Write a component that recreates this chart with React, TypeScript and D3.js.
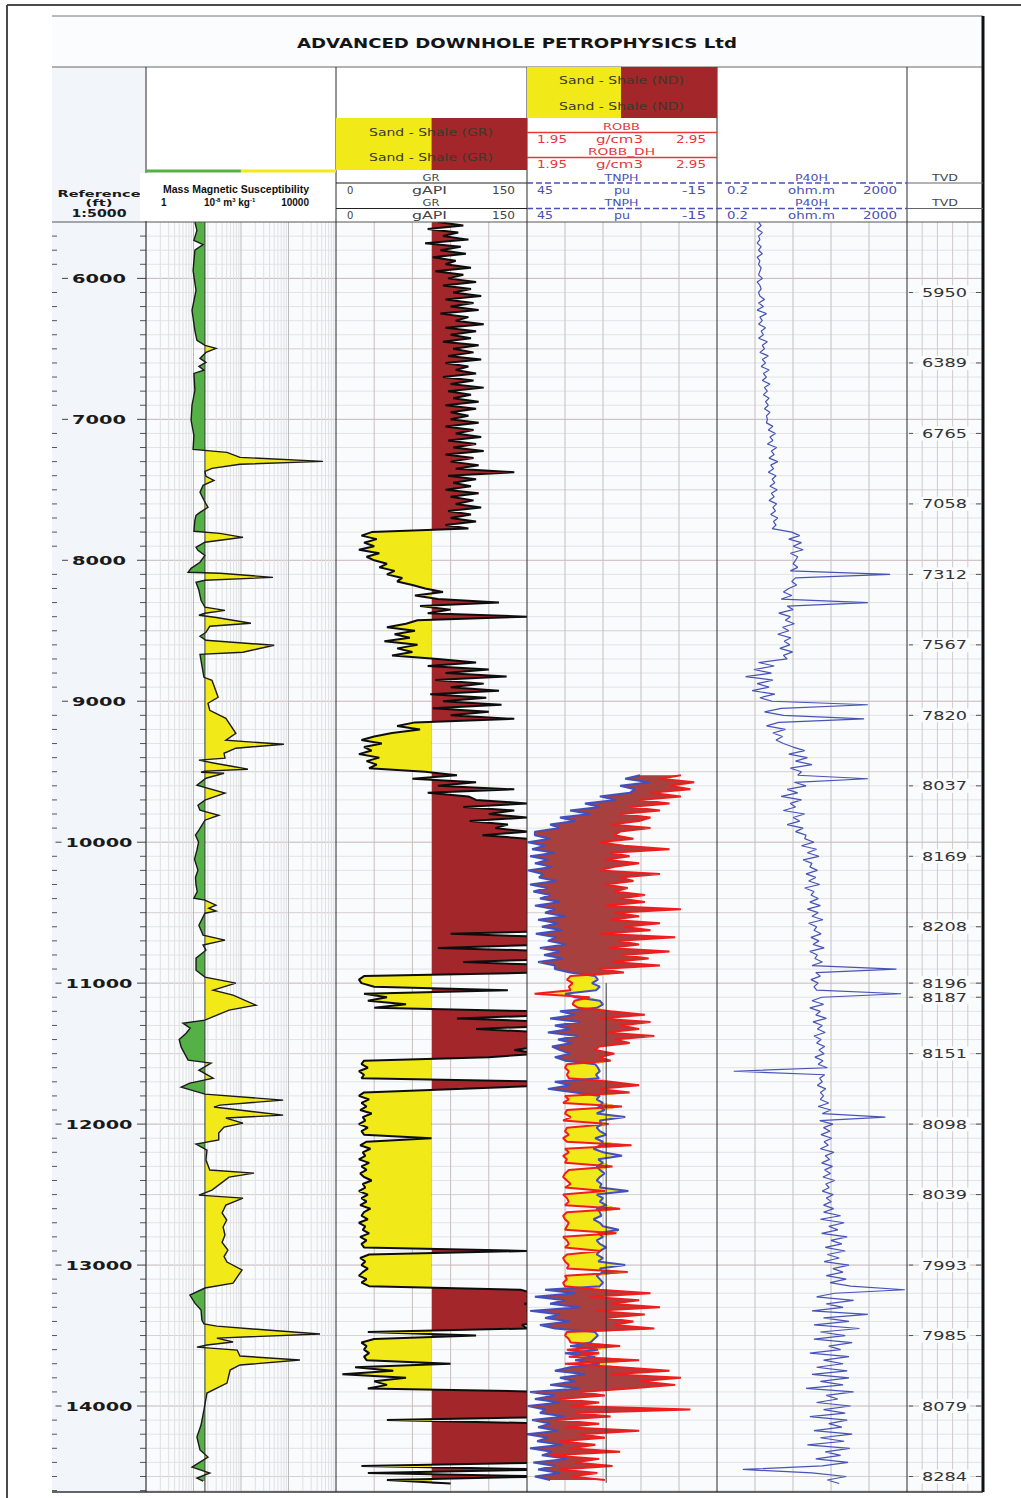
import React from 'react';
import * as d3 from 'd3';

const DEPTH_LABELS = [6000, 7000, 8000, 9000, 10000, 11000, 12000, 13000, 14000];

const TVD_MD = [6100, 6600, 7100, 7600, 8100, 8600, 9100, 9600, 10100, 10600, 11000, 11100, 11500, 12000, 12500, 13000, 13500, 14000, 14500];
const TVD_LABELS = ['5950', '6389', '6765', '7058', '7312', '7567', '7820', '8037', '8169', '8208', '8196', '8187', '8151', '8098', '8039', '7993', '7985', '8079', '8284'];

// mass magnetic susceptibility, [depth ft, 10^-8 m3/kg]
const SUSC_CUTOFF = 17.4;
const SUSC_POINTS = [
  [5600, 10.7], [5660, 11.8], [5730, 10.2], [5760, 15.9], [5800, 10.7], [5945, 9.8], [6085, 11.3], [6227, 9.3],
  [6370, 10.7], [6440, 11.8], [6475, 17.4], [6496, 29.8], [6525, 18.3], [6567, 13.7], [6596, 18.3], [6624, 13],
  [6652, 16.6], [6674, 10.2], [6794, 10.7], [6900, 9.3], [7007, 8.9], [7113, 10.2], [7213, 9.8], [7234, 50.7],
  [7270, 95], [7298, 5300], [7319, 95], [7348, 24.5], [7369, 17.4], [7404, 18.3], [7433, 27], [7468, 15.9],
  [7518, 13.7], [7574, 16.6], [7624, 20.2], [7660, 13.7], [7681, 11.3], [7716, 10.7], [7794, 10.2], [7809, 36],
  [7837, 110], [7872, 17.4], [7908, 11.3], [7929, 12.4], [7965, 17.4], [8014, 13.7], [8057, 8.9], [8085, 7.7],
  [8092, 36], [8121, 470], [8142, 17.4], [8156, 11.3], [8213, 13], [8284, 14.4], [8333, 17.4], [8355, 46],
  [8376, 17.4], [8390, 13], [8404, 28], [8447, 162], [8468, 22], [8511, 18.3], [8539, 13.7], [8567, 18.3],
  [8603, 500], [8652, 110], [8667, 13.7], [8745, 15], [8830, 16.6], [8851, 24.5], [8972, 33], [9014, 20.2],
  [9064, 22], [9121, 48], [9227, 78], [9277, 48], [9305, 800], [9333, 78], [9369, 44], [9404, 46],
  [9418, 13], [9440, 28], [9461, 64], [9482, 140], [9496, 17.4], [9504, 14.4], [9511, 44], [9546, 18.3],
  [9596, 11.8], [9652, 46], [9702, 17.4], [9738, 12.4], [9773, 13.7], [9809, 34], [9844, 17.4], [9915, 13],
  [9950, 11], [10000, 12.8], [10057, 11.8], [10120, 10.5], [10199, 12.4], [10250, 11], [10305, 11.3], [10350, 12],
  [10397, 10.2], [10411, 17.4], [10447, 29.8], [10468, 21], [10489, 29.8], [10504, 17.4], [10589, 13], [10660, 15.9],
  [10695, 46], [10730, 15.9], [10766, 18.3], [10823, 11.3], [10908, 11.3], [10957, 17.4], [11000, 78], [11050, 26],
  [11085, 68], [11156, 206], [11191, 56], [11262, 17.4], [11284, 6], [11320, 8.5], [11355, 7], [11400, 5],
  [11454, 5.5], [11546, 7.7], [11567, 23.4], [11617, 13], [11674, 26], [11709, 8.4], [11738, 5.5], [11787, 17.4],
  [11830, 770], [11865, 36], [11879, 27], [11936, 770], [11957, 48], [11993, 110], [12021, 44], [12064, 34],
  [12113, 34], [12142, 11.3], [12184, 19.2], [12255, 18.3], [12326, 22], [12348, 188], [12376, 56], [12468, 24.5],
  [12504, 13], [12525, 110], [12574, 48], [12630, 40], [12681, 50], [12730, 42], [12787, 46], [12840, 40],
  [12894, 53], [12940, 44], [12979, 50.7], [13035, 105], [13128, 68], [13163, 17.4], [13213, 8.4], [13270, 10.7],
  [13319, 14.4], [13390, 15], [13418, 16.6], [13433, 31], [13461, 350], [13489, 4600], [13518, 31], [13546, 68],
  [13567, 19.2], [13582, 11.8], [13603, 83], [13645, 95], [13674, 1740], [13709, 95], [13745, 59], [13837, 50.7],
  [13908, 19.2], [14028, 16.6], [14135, 14.4], [14220, 11.8], [14312, 13.7], [14362, 20.2], [14433, 9.3], [14475, 22],
  [14511, 11.8], [14532, 15.9],
];

// logs sampled every 25 ft: [top depth, values]
const SAMPLE_STEP = 25;

const GR_CUTOFF = 75;
const GR_RUNS = [
  [5600, [80, 100, 72, 96, 84, 104, 70, 98, 82, 102, 76, 94, 86, 106, 78, 100]],
  [6000, [88, 110, 84, 106, 92, 114, 86, 108, 90, 112, 82, 104, 94, 116, 86, 110, 90, 106, 84, 112, 92, 108, 88, 114, 86, 104, 94, 110, 84, 108, 90, 116, 88, 106, 92, 112, 86, 110, 90, 104]],
  [7000, [90, 112, 86, 108, 94, 114, 88, 110, 92, 116, 86, 108, 90, 112, 94, 140, 88, 110, 92, 106, 86, 112, 90, 108, 94, 114, 88, 106, 90, 110, 86, 104]],
  [7800, [28, 20, 32, 22, 30, 18, 34, 24]],
  [8000, [30, 40, 34, 46, 40, 52, 48, 60]],
  [8200, [70, 84, 62, 80, 128, 66, 90, 72, 150, 64]],
  [8450, [55, 40, 62, 46, 58, 38, 64, 48, 60, 44]],
  [8700, [80, 110, 72, 120, 86, 134, 78, 116, 90, 128, 74, 118]],
  [9000, [84, 130, 76, 120, 90, 140]],
  [9150, [62, 48, 66, 44]],
  [9250, [30, 20, 36, 22, 28, 18, 34, 24, 32, 26]],
  [9500, [70, 95, 60, 110, 80, 140, 72, 104]],
  [9700, [110, 150, 100, 140, 120, 150, 105, 135, 125, 150, 115, 150]],
  [10000, [165, 180, 170, 190, 175, 185, 168, 195, 172, 182, 178, 190, 166, 184, 174, 188, 170, 180, 176, 192, 168, 186, 174, 182, 170, 188, 90, 176, 184, 172, 80, 180, 170, 186, 100, 175]],
  [10900, [170, 160, 22, 18]],
  [11000, [20, 30, 135, 22, 40, 25, 55, 30]],
  [11200, [160, 175, 95, 170, 180, 110, 165, 175, 150, 170]],
  [11450, [160, 140, 160, 120]],
  [11550, [22, 20, 25, 18, 22, 20]],
  [11700, [170, 165, 100]],
  [11775, [22, 18, 26, 20, 24, 19, 28, 21, 23, 18, 25, 20, 22, 75, 24, 19, 27, 21, 23, 18, 26, 20, 24, 19, 22, 28, 21, 23, 18, 25, 20, 24, 19, 27, 22, 20, 25, 18, 23, 21, 26, 19, 24, 20, 22, 150, 26, 19, 23, 20, 25, 21]],
  [13075, [18, 24, 20, 26]],
  [13175, [145, 155, 150, 160, 148, 158, 150, 155, 152, 160, 146, 150]],
  [13475, [25, 110, 30, 20, 24, 22, 26, 22, 24, 90, 15, 45, 5, 55, 30, 40, 25]],
  [13900, [170, 180, 165, 185, 175, 180, 170, 188, 40, 175, 165, 182, 178, 170, 186, 172, 180, 175, 168, 184, 174]],
  [14425, [20, 170, 25, 165, 40, 90]],
];

const TNPH_RUNS = [
  [9525, [9.3, 14, 6.2, 15.6, 11]],
  [9650, [12.5, 22, 17, 26.7, 22, 31.4, 25, 34.6]],
  [9850, [29.8, 37.7, 34.6, 42.5]],
  [9950, [42.5, 37.7, 44.7, 39.3, 43.4, 36.2, 44, 38.3, 42.5, 37.1, 44.7, 40, 41.2, 35.8, 44, 38.6, 43, 37.7]],
  [10400, [40.9, 34.6, 42.5, 36.2, 39.3, 33, 41.5, 35.2, 40.3, 33.9, 42.2, 35.8, 38.4, 32.7, 40.9, 34.6, 39.6, 33.6, 41.5, 36.2]],
  [10900, [36.2, 31.4]],
  [10950, [23.5, 22.6, 24.5, 22, 23.2]],
  [11075, [33, 29.8]],
  [11125, [22, 21, 22.9]],
  [11200, [34.6, 29.8, 37.7, 28.3, 36.2, 31.4, 38.4, 28.9, 35.2, 30.8, 37.1]],
  [11475, [34.6, 31.4, 36.2, 33]],
  [11575, [23.5, 22.6, 22, 23.2, 22.3]],
  [11700, [36.2, 31.4, 38.4, 29.8]],
  [11800, [22, 23, 21, 22.5, 20.5, 23, 14, 22, 21.5, 23, 22, 20, 23.5, 21, 22, 24, 21, 15, 22.5, 21, 23, 22, 20.5, 22, 23, 21.5, 22, 13, 23, 21, 22, 20, 23, 22, 21.5, 24, 22, 21, 16, 22.5, 21, 23, 22, 20, 22, 23, 21, 22.5, 14, 22, 21, 23, 22, 21, 22]],
  [13175, [39.3, 29.8, 42.5, 33, 37.7, 28.3, 44, 34.6, 39.3, 31.4, 40.9, 36.2]],
  [13475, [23.5, 22.6, 23.8]],
  [13550, [25, 31.4, 22.6, 33, 23.5, 29.8, 22]],
  [13725, [31.4, 36.2, 26.7, 34.6, 29.8, 37.7, 28.3]],
  [13900, [44, 36.2, 42.5, 34.6, 44.7, 39.3, 40.9, 33, 43.4, 37.7, 41.5, 35.2, 45, 38.4, 41.8, 33.9, 44, 37.1, 40.3, 32.4, 43, 36.2, 41.5, 34.6, 42.5, 37.7]],
];

const ROBB_RUNS = [
  [9525, [2.76, 2.65, 2.83, 2.70, 2.81]],
  [9650, [2.60, 2.76, 2.54, 2.70, 2.49, 2.65, 2.44, 2.60]],
  [9850, [2.54, 2.39, 2.60, 2.44]],
  [9950, [2.41, 2.51, 2.33, 2.46, 2.70, 2.39, 2.49, 2.36, 2.54, 2.41, 2.33, 2.65, 2.44, 2.51, 2.36, 2.48, 2.41, 2.57]],
  [10400, [2.44, 2.57, 2.36, 2.76, 2.41, 2.54, 2.39, 2.65, 2.46, 2.60, 2.33, 2.73, 2.43, 2.54, 2.38, 2.70, 2.45, 2.59, 2.40, 2.65]],
  [10900, [2.33, 2.46]],
  [10950, [2.18, 2.16, 2.19, 2.17, 2.18]],
  [11075, [1.99, 2.28]],
  [11125, [2.20, 2.19, 2.22]],
  [11200, [2.39, 2.57, 2.33, 2.60, 2.44, 2.54, 2.36, 2.62, 2.41, 2.49, 2.33]],
  [11475, [2.31, 2.41, 2.33, 2.39]],
  [11575, [2.16, 2.15, 2.17, 2.16, 2.17]],
  [11700, [2.39, 2.54, 2.33, 2.49]],
  [11800, [2.15, 2.17, 2.14, 2.45, 2.16, 2.15, 2.18, 2.14, 2.38, 2.16, 2.15, 2.17, 2.14, 2.16, 2.50, 2.15, 2.17, 2.14, 2.16, 2.15, 2.40, 2.17, 2.15, 2.14, 2.16, 2.18, 2.15, 2.36, 2.14, 2.16, 2.17, 2.15, 2.44, 2.16, 2.14, 2.15, 2.17, 2.16, 2.15, 2.42, 2.14, 2.16, 2.17, 2.15, 2.34, 2.16, 2.14, 2.15, 2.17, 2.16, 2.48, 2.15, 2.16, 2.14, 2.15]],
  [13175, [2.33, 2.60, 2.28, 2.54, 2.39, 2.65, 2.31, 2.57, 2.36, 2.51, 2.41, 2.62]],
  [13475, [2.16, 2.15, 2.17]],
  [13550, [2.18, 2.44, 2.16, 2.33, 2.17, 2.54, 2.15]],
  [13725, [2.44, 2.70, 2.39, 2.76, 2.54, 2.73, 2.49]],
  [13900, [2.23, 2.36, 2.12, 2.33, 2.18, 2.81, 2.20, 2.39, 2.10, 2.33, 2.15, 2.54, 2.23, 2.36, 2.12, 2.31, 2.18, 2.44, 2.07, 2.33, 2.20, 2.40, 2.12, 2.32, 2.18, 2.36]],
];

// vertical reference line drawn in the N-D track
const ND_REF_VALUE = 20;
const ND_REF_TOP = 11000;
const ND_REF_BASE = 14545;

const P40H_RUNS = [
  [5600, [1.5, 1.7, 1.4, 1.8, 1.5, 1.6, 1.4, 1.7, 1.5, 1.8, 1.4, 1.6, 1.5, 1.7, 1.6, 1.5, 1.8, 1.4, 1.6, 1.7, 1.5]],
  [6125, [1.6, 2.0, 1.5, 1.9, 1.4, 2.2, 1.6, 1.8, 1.5, 2.1, 1.7, 1.9, 1.5, 2.3, 1.8, 2.0, 1.6, 2.4, 1.8, 2.1, 1.7, 2.5, 1.9, 2.2, 1.8, 2.6, 2.0, 2.3, 1.9, 2.5, 2.1, 2.4, 2.0, 2.6, 2.2, 2.3]],
  [7025, [2.2, 3.0, 2.4, 3.4, 2.6, 3.0, 2.3, 3.6, 2.8, 3.2, 2.5, 3.8, 2.7, 3.1, 2.4, 3.5, 2.9, 3.3, 2.6, 3.7, 2.8, 3.2, 2.5, 3.6, 3.0, 3.4, 2.7, 3.8, 3.1, 3.5, 2.9]],
  [7800, [7.5, 11, 6.5, 12, 8, 13, 7, 10, 9]],
  [8025, [8, 10, 7, 880, 9, 7.5, 9.5, 6.5]],
  [8225, [5, 7.5, 4.5, 300, 6, 8, 4, 7, 5.5, 8.5, 4.8, 6.5, 3.8, 7.2, 5.2, 6.8, 4.2, 7.8, 5, 6]],
  [8725, [1.5, 3.2, 1.2, 2.8, 0.8, 3.0, 1.4, 2.5, 1.1, 3.3, 1.6, 2.9]],
  [9025, [300, 4.5, 2.0, 5.0, 250, 4.0, 2.2, 5.5, 3.0, 4.8, 3.5, 5.0]],
  [9325, [8, 14, 6.5, 16, 9, 20, 7, 12, 10, 300, 8.5, 15]],
  [9625, [6, 10, 4.5, 12, 7, 9, 5, 14, 8, 11, 6, 13, 9, 15]],
  [9975, [14, 22, 12, 25, 16, 28, 13, 20, 18, 26, 15, 24, 17, 29, 14, 22, 19, 27]],
  [10425, [18, 30, 16, 27, 20, 34, 17, 25, 22, 31, 19, 28, 21, 36, 18, 26, 23, 33, 20, 1200, 24, 30, 19, 27, 22, 25, 1500, 32]],
  [11125, [20, 35, 18, 30, 24, 40, 21, 33, 26, 38, 22, 31, 25, 37, 28, 36, 23, 34, 27, 42, 0.45, 37, 29, 33, 26, 39, 30, 35]],
  [11825, [30, 45, 27, 50, 33, 700, 29, 55, 35, 48, 31, 52, 36, 44, 30, 58, 38, 47, 32, 54, 37, 49, 34, 60, 39, 46, 33, 56, 40, 51, 35, 57]],
  [12625, [35, 80, 30, 95, 45, 70, 32, 110, 50, 85, 38, 100, 42, 75, 36, 120, 55, 90, 40, 105, 48, 130]],
  [13175, [1800, 60, 25, 150, 40, 90, 20, 300, 35, 120, 22, 200]],
  [13475, [30, 100, 22, 140, 45, 80, 18, 120, 35, 90, 25, 110]],
  [13775, [20, 120, 30, 90, 15, 150, 40, 70, 25, 130, 35, 100, 18, 110, 45, 85, 22, 140, 30, 95, 16, 125, 38, 80, 24, 115, 33, 0.7, 20, 105, 42, 75]],
];

// ---------- layout ----------
const LEFT = 52;
const RIGHT = 983;
const HEAD_TOP = 67;
const PLOT_TOP = 222;
const PLOT_BASE = 1492;
const DEPTH_TOP = 5600;
const DEPTH_BASE = 14610;
const TRK = {
  depth: [52, 146],
  sus: [146, 336],
  gr: [336, 527],
  nd: [527, 717],
  res: [717, 907],
  tvd: [907, 983],
};

const YELLOW = '#f2ea18';
const RED = '#a3262b';
const GREEN = '#55b146';
const BROWN = '#a8403f';
const BLUE = '#4150bd';
const CRV_RED = '#ef1d1d';
const HDR_BLUE = '#4b50b3';
const HDR_RED = '#e4383c';
const FONT = 'DejaVu Sans';

const expand = (runs) =>
  runs.flatMap(([top, vals]) => vals.map((v, i) => ({ d: top + i * SAMPLE_STEP, v })));

const T = ({ x, y, w, anchor = 'middle', size = 10, weight = 'normal', fill = '#333', family = FONT, children }) => (
  <text
    x={x}
    y={y}
    textAnchor={anchor}
    fontSize={size}
    fontWeight={weight}
    fill={fill}
    fontFamily={family}
    textLength={w}
    lengthAdjust={w ? 'spacingAndGlyphs' : undefined}
  >
    {children}
  </text>
);

export default function App() {
  const y = d3.scaleLinear().domain([DEPTH_TOP, DEPTH_BASE]).range([PLOT_TOP, PLOT_BASE]);
  const xSus = d3.scaleLog().domain([1, 10000]).range(TRK.sus);
  const xGR = d3.scaleLinear().domain([0, 150]).range(TRK.gr);
  const xN = d3.scaleLinear().domain([45, -15]).range(TRK.nd);
  const xD = d3.scaleLinear().domain([1.95, 2.95]).range(TRK.nd);
  const xR = d3.scaleLog().domain([0.2, 2000]).range(TRK.res);

  const sus = SUSC_POINTS.map(([d, v]) => ({ d, v }));
  const gr = expand(GR_RUNS);
  const tnph = expand(TNPH_RUNS);
  const robb = expand(ROBB_RUNS);
  const nd = tnph.map((s, i) => ({ d: s.d, n: xN(s.v), r: xD(robb[i].v) }));
  const res = expand(P40H_RUNS);

  const susBase = xSus(SUSC_CUTOFF);
  const grBase = xGR(GR_CUTOFF);

  const susArea = d3.area().y((d) => y(d.d)).x0(susBase).x1((d) => xSus(d.v));
  const susLine = d3.line().x((d) => xSus(d.v)).y((d) => y(d.d));
  const grArea = d3.area().y((d) => y(d.d)).x0(grBase).x1((d) => xGR(d.v));
  const grLine = d3.line().x((d) => xGR(d.v)).y((d) => y(d.d));
  const ndShale = d3.area().y((d) => y(d.d)).x0((d) => d.n).x1((d) => Math.max(d.n, d.r));
  const ndSand = d3.area().y((d) => y(d.d)).x0((d) => d.r).x1((d) => Math.max(d.n, d.r));
  const tnphLine = d3.line().x((d) => d.n).y((d) => y(d.d));
  const robbLine = d3.line().x((d) => d.r).y((d) => y(d.d));
  const resLine = d3.line().x((d) => xR(d.v)).y((d) => y(d.d));

  const gridDepths = d3.range(5700, 14601, 100);
  const plotH = PLOT_BASE - PLOT_TOP;

  // log grid for the susceptibility track
  const susGrid = [];
  [1, 10, 100, 1000].forEach((dec) => {
    d3.range(1, 10).forEach((m) => susGrid.push({ v: dec * m, major: m === 1 }));
  });

  const split = (trk, n) => d3.range(1, n).map((i) => trk[0] + ((trk[1] - trk[0]) * i) / n);

  return (
    <div style={{ position: 'absolute', left: 0, top: 0 }}>
      <svg width={1021} height={1498} style={{ display: 'block', background: '#ffffff' }}>
        <defs>
          <clipPath id="susL"><rect x={TRK.sus[0]} y={PLOT_TOP} width={susBase - TRK.sus[0]} height={plotH} /></clipPath>
          <clipPath id="susR"><rect x={susBase} y={PLOT_TOP} width={TRK.sus[1] - susBase} height={plotH} /></clipPath>
          <clipPath id="grL"><rect x={TRK.gr[0]} y={PLOT_TOP} width={grBase - TRK.gr[0]} height={plotH} /></clipPath>
          <clipPath id="grR"><rect x={grBase} y={PLOT_TOP} width={TRK.gr[1] - grBase} height={plotH} /></clipPath>
          <clipPath id="grT"><rect x={TRK.gr[0]} y={PLOT_TOP} width={TRK.gr[1] - TRK.gr[0]} height={plotH} /></clipPath>
          <clipPath id="ndT"><rect x={TRK.nd[0]} y={PLOT_TOP} width={TRK.nd[1] - TRK.nd[0]} height={plotH} /></clipPath>
          <clipPath id="resT"><rect x={TRK.res[0]} y={PLOT_TOP} width={TRK.res[1] - TRK.res[0]} height={plotH} /></clipPath>
        </defs>

        {/* outer frame */}
        <line x1={7} x2={1021} y1={5} y2={5} stroke="#4a4a4a" strokeWidth={2} />
        <line x1={7} x2={7} y1={5} y2={1498} stroke="#4a4a4a" strokeWidth={2} />

        {/* title band */}
        <rect x={LEFT} y={16} width={RIGHT - LEFT} height={HEAD_TOP - 16} fill="#fbfcfe" />
        <line x1={LEFT} x2={RIGHT} y1={16} y2={16} stroke="#777" />
        <T x={517} y={48} w={440} size={14} weight="bold" fill="#151515">ADVANCED DOWNHOLE PETROPHYSICS Ltd</T>

        {/* backgrounds */}
        <rect x={TRK.depth[0]} y={HEAD_TOP} width={TRK.depth[1] - TRK.depth[0]} height={PLOT_BASE - HEAD_TOP} fill="#f2f6fb" />
        <rect x={TRK.sus[0]} y={PLOT_TOP} width={RIGHT - TRK.sus[0]} height={plotH} fill="#f9fbfd" />

        {/* horizontal grid */}
        {gridDepths.map((d) => (
          <line
            key={'h' + d}
            x1={TRK.sus[0]}
            x2={RIGHT}
            y1={y(d)}
            y2={y(d)}
            stroke={d % 1000 === 0 ? '#c8b6b6' : d % 500 === 0 ? '#d8cfcf' : '#e3e3e6'}
            strokeWidth={1}
          />
        ))}

        {/* vertical grids */}
        {susGrid.map((g) => (
          <line key={'s' + g.v} x1={xSus(g.v)} x2={xSus(g.v)} y1={PLOT_TOP} y2={PLOT_BASE}
            stroke={g.major ? '#bcbcbc' : '#e0e0e2'} strokeWidth={1} />
        ))}
        {[30, 60, 90, 120].map((v) => (
          <line key={'g' + v} x1={xGR(v)} x2={xGR(v)} y1={PLOT_TOP} y2={PLOT_BASE} stroke="#c7bebe" />
        ))}
        {[33, 21, 9, -3].map((v) => (
          <line key={'n' + v} x1={xN(v)} x2={xN(v)} y1={PLOT_TOP} y2={PLOT_BASE} stroke="#c7bebe" />
        ))}
        {split(TRK.res, 5).map((x) => (
          <line key={'r' + x} x1={x} x2={x} y1={PLOT_TOP} y2={PLOT_BASE} stroke="#c7bebe" />
        ))}
        {split(TRK.tvd, 5).map((x) => (
          <line key={'t' + x} x1={x} x2={x} y1={PLOT_TOP} y2={PLOT_BASE} stroke="#d2caca" />
        ))}

        {/* susceptibility track */}
        <path d={susArea(sus)} fill={GREEN} clipPath="url(#susL)" />
        <path d={susArea(sus)} fill={YELLOW} clipPath="url(#susR)" />
        <line x1={susBase} x2={susBase} y1={PLOT_TOP} y2={PLOT_BASE} stroke="#3a3a3a" strokeWidth={1} />
        <path d={susLine(sus)} fill="none" stroke="#1a1a1a" strokeWidth={1.4} />

        {/* GR track */}
        <path d={grArea(gr)} fill={YELLOW} clipPath="url(#grL)" />
        <path d={grArea(gr)} fill={RED} clipPath="url(#grR)" />
        <path d={grLine(gr)} fill="none" stroke="#0d0d0d" strokeWidth={2} strokeLinejoin="bevel" clipPath="url(#grT)" />

        {/* neutron-density track */}
        <g clipPath="url(#ndT)">
          <path d={ndShale(nd)} fill={BROWN} />
          <path d={ndSand(nd)} fill={YELLOW} />
          <path d={tnphLine(nd)} fill="none" stroke={BLUE} strokeWidth={2} strokeLinejoin="bevel" />
          <path d={robbLine(nd)} fill="none" stroke={CRV_RED} strokeWidth={2} strokeLinejoin="bevel" />
          <line x1={xN(ND_REF_VALUE)} x2={xN(ND_REF_VALUE)} y1={y(ND_REF_TOP)} y2={y(ND_REF_BASE)} stroke="#333" strokeWidth={1} />
        </g>

        {/* resistivity track */}
        <path d={resLine(res)} fill="none" stroke="#4753b6" strokeWidth={1.2} strokeLinejoin="bevel" clipPath="url(#resT)" />

        {/* depth track ticks and labels */}
        {gridDepths.map((d) => {
          const yy = y(d);
          if (DEPTH_LABELS.includes(d)) {
            const w = String(d).length === 4 ? 54 : 67;
            return (
              <g key={'dl' + d}>
                <line x1={99 - w / 2 - 10} x2={99 - w / 2 - 4} y1={yy} y2={yy} stroke="#444" />
                <line x1={137} x2={146} y1={yy} y2={yy} stroke="#444" />
                <T x={99} y={yy + 4.5} w={w} size={12} weight="bold" fill="#1a1a1a">{d}</T>
              </g>
            );
          }
          return (
            <g key={'dt' + d}>
              <line x1={52} x2={57} y1={yy} y2={yy} stroke="#555" />
              <line x1={140} x2={146} y1={yy} y2={yy} stroke="#555" />
            </g>
          );
        })}

        {/* TVD labels */}
        {TVD_MD.map((md, i) => (
          <g key={'tvd' + md}>
            <rect x={919} y={y(md) - 7} width={51} height={14} fill="#f9fbfd" />
            <line x1={909} x2={913} y1={y(md)} y2={y(md)} stroke="#555" />
            <line x1={976} x2={981} y1={y(md)} y2={y(md)} stroke="#555" />
            <T x={944.5} y={y(md) + 4.5} w={45} size={12.5} fill="#333">{TVD_LABELS[i]}</T>
          </g>
        ))}

        {/* header: track separators */}
        <line x1={LEFT} x2={RIGHT} y1={HEAD_TOP} y2={HEAD_TOP} stroke="#666" />
        <line x1={LEFT} x2={RIGHT} y1={PLOT_TOP} y2={PLOT_TOP} stroke="#555" />
        <line x1={LEFT} x2={RIGHT} y1={PLOT_BASE} y2={PLOT_BASE} stroke="#333" strokeWidth={1.5} />
        {[TRK.sus[0], TRK.gr[0], TRK.nd[0], TRK.res[0], TRK.tvd[0]].map((x) => (
          <line key={'sep' + x} x1={x} x2={x} y1={HEAD_TOP} y2={PLOT_BASE} stroke="#2b2b2b" strokeWidth={1} />
        ))}
        <line x1={RIGHT} x2={RIGHT} y1={16} y2={PLOT_BASE} stroke="#111" strokeWidth={3} />

        {/* depth header */}
        <T x={99} y={197} w={83} size={9.5} weight="bold" fill="#1a1a1a">Reference</T>
        <T x={99} y={205.5} w={27} size={9.5} weight="bold" fill="#1a1a1a">(ft)</T>
        <T x={99} y={217} w={55} size={10.5} weight="bold" fill="#1a1a1a">1:5000</T>

        {/* susceptibility header */}
        <line x1={TRK.sus[0]} x2={susBase + 36} y1={171} y2={171} stroke={GREEN} strokeWidth={3} />
        <line x1={susBase + 36} x2={TRK.sus[1]} y1={171} y2={171} stroke={YELLOW} strokeWidth={3} />
        <rect x={140} y={173} width={193} height={48} fill="#ffffff" />
        <T x={163} y={193} w={146} anchor="start" size={10} weight="bold" family="Liberation Sans" fill="#111">Mass Magnetic Susceptibility</T>
        <text x={161} y={206} fontSize={10} fontWeight="bold" fontFamily="Liberation Sans" fill="#111">1</text>
        <text x={204} y={206} fontSize={10} fontWeight="bold" fontFamily="Liberation Sans" fill="#111">
          10<tspan dy={-4} fontSize={6}>-8</tspan>
          <tspan dy={4}> m</tspan><tspan dy={-4} fontSize={6}>3</tspan>
          <tspan dy={4}> kg</tspan><tspan dy={-4} fontSize={6}>-1</tspan>
        </text>
        <text x={309} y={206} textAnchor="end" fontSize={10} fontWeight="bold" fontFamily="Liberation Sans" fill="#111">10000</text>

        {/* GR header */}
        <rect x={TRK.gr[0]} y={118} width={grBase - TRK.gr[0]} height={52} fill={YELLOW} />
        <rect x={grBase} y={118} width={TRK.gr[1] - grBase} height={52} fill={RED} />
        <T x={431} y={136} w={124} size={10} fill="#3a3a28">Sand - Shale (GR)</T>
        <T x={431} y={161} w={124} size={10} fill="#3a3a28">Sand - Shale (GR)</T>
        {[180.5, 206].map((by, i) => (
          <g key={'grh' + i}>
            <T x={431} y={by} w={17} size={9.5} fill="#444">GR</T>
            <line x1={TRK.gr[0]} x2={TRK.gr[1]} y1={by + 2.5} y2={by + 2.5} stroke="#222" />
            <T x={347} y={by + 13} anchor="start" size={10} fill="#444">0</T>
            <T x={429.5} y={by + 13} w={35} size={10} fill="#444">gAPI</T>
            <T x={515} y={by + 13} anchor="end" w={23} size={10} fill="#444">150</T>
          </g>
        ))}

        {/* N-D header */}
        <rect x={TRK.nd[0]} y={HEAD_TOP} width={621 - TRK.nd[0]} height={51} fill={YELLOW} />
        <rect x={621} y={HEAD_TOP} width={TRK.nd[1] - 621} height={51} fill={RED} />
        <T x={621.5} y={84} w={125} size={10} fill="#3a3a28">Sand - Shale (ND)</T>
        <T x={621.5} y={110} w={125} size={10} fill="#3a3a28">Sand - Shale (ND)</T>
        {[
          ['ROBB', 130, 37],
          ['ROBB_DH', 155, 67],
        ].map(([name, by, w]) => (
          <g key={name}>
            <T x={621.5} y={by} w={w} size={9.5} fill={HDR_RED}>{name}</T>
            <line x1={TRK.nd[0]} x2={TRK.nd[1]} y1={by + 2.5} y2={by + 2.5} stroke={HDR_RED} strokeWidth={1.5} />
            <T x={537} y={by + 13} anchor="start" w={30} size={10} fill={HDR_RED}>1.95</T>
            <T x={619.5} y={by + 13} w={47} size={10} fill={HDR_RED}>g/cm3</T>
            <T x={706} y={by + 13} anchor="end" w={30} size={10} fill={HDR_RED}>2.95</T>
          </g>
        ))}
        {[180.5, 206].map((by, i) => (
          <g key={'ndh' + i}>
            <line x1={TRK.tvd[0]} x2={RIGHT} y1={by + 2.5} y2={by + 2.5} stroke="#666" />
            <line x1={TRK.nd[0]} x2={TRK.res[1]} y1={by + 2.5} y2={by + 2.5} stroke={HDR_BLUE} strokeWidth={1.3} strokeDasharray="6 3" />
            <T x={621.5} y={by} w={34} size={9.5} fill={HDR_BLUE}>TNPH</T>
            <T x={537} y={by + 13} anchor="start" w={16} size={10} fill={HDR_BLUE}>45</T>
            <T x={622} y={by + 13} w={16} size={10} fill={HDR_BLUE}>pu</T>
            <T x={706} y={by + 13} anchor="end" w={24} size={10} fill={HDR_BLUE}>-15</T>
            <T x={811.5} y={by} w={33} size={9.5} fill={HDR_BLUE}>P40H</T>
            <T x={727} y={by + 13} anchor="start" w={21} size={10} fill={HDR_BLUE}>0.2</T>
            <T x={811.5} y={by + 13} w={47} size={10} fill={HDR_BLUE}>ohm.m</T>
            <T x={897} y={by + 13} anchor="end" w={34} size={10} fill={HDR_BLUE}>2000</T>
            <T x={945} y={by} w={26} size={9.5} fill="#444">TVD</T>
          </g>
        ))}
      </svg>
    </div>
  );
}
